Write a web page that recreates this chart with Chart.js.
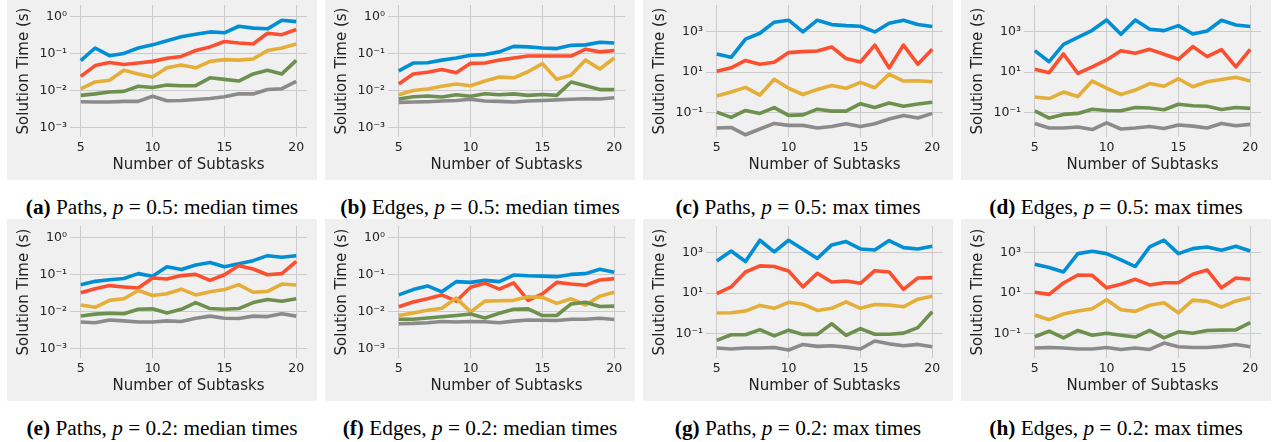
<!DOCTYPE html>
<html><head><meta charset="utf-8">
<script src="https://cdn.jsdelivr.net/npm/chart.js@4"></script>
<style>
html,body{margin:0;padding:0;background:#fff;width:1273px;height:442px;overflow:hidden;position:relative;}
.panel{position:absolute;width:310px;height:182px;background:#f0f0f0;}
.panel canvas{display:block;}
.cap{position:absolute;width:318px;text-align:center;font-family:"Liberation Serif","Times New Roman",serif;font-size:21.3px;color:#000;white-space:nowrap;line-height:20px;height:20px;}
</style></head><body>
<script>
const subtasks = [5,6,7,8,9,10,11,12,13,14,15,16,17,18,19,20];
const xTicks = [5,10,15,20];
const yTicksMedian = [1e-3,1e-2,1e-1,1e0];
const yTicksMax = [1e-1,1e1,1e3];

const a_blue = [0.064,0.14,0.087,0.10,0.14,0.17,0.22,0.28,0.33,0.38,0.36,0.54,0.48,0.46,0.78,0.72];
const a_red = [0.024,0.047,0.057,0.050,0.055,0.061,0.074,0.083,0.12,0.15,0.21,0.19,0.18,0.35,0.32,0.44];
const a_yellow = [0.011,0.017,0.019,0.035,0.028,0.023,0.041,0.049,0.041,0.061,0.068,0.066,0.071,0.12,0.14,0.18];
const a_green = [0.0074,0.0081,0.0091,0.0095,0.013,0.012,0.014,0.0135,0.0135,0.022,0.020,0.018,0.028,0.035,0.028,0.065];
const a_gray = [0.0050,0.0049,0.0049,0.0051,0.0051,0.0070,0.0053,0.0054,0.0057,0.0061,0.0068,0.0082,0.0081,0.0106,0.0112,0.0177];

const b_blue = [0.034,0.055,0.056,0.066,0.075,0.089,0.093,0.11,0.155,0.15,0.14,0.135,0.165,0.17,0.20,0.19];
const b_red = [0.015,0.028,0.031,0.037,0.030,0.054,0.055,0.066,0.075,0.085,0.085,0.085,0.085,0.13,0.11,0.12];
const b_yellow = [0.0077,0.010,0.011,0.013,0.015,0.0135,0.018,0.023,0.022,0.032,0.053,0.020,0.026,0.066,0.038,0.075];
const b_green = [0.0059,0.0068,0.0071,0.0067,0.0077,0.0070,0.0082,0.0077,0.0081,0.0074,0.0078,0.0074,0.017,0.0135,0.0106,0.0106];
const b_gray = [0.0048,0.0049,0.0050,0.0052,0.0054,0.0058,0.0052,0.0051,0.0049,0.0052,0.0054,0.0056,0.0058,0.0060,0.0059,0.0064];

const c_blue = [77,53,410,800,2800,3500,930,3500,2130,1900,1760,930,2470,3500,2130,1700];
const c_red = [11,16,37,24,30,90,100,107,170,46,31,210,16,210,24,130];
const c_yellow = [0.66,1.04,1.77,0.74,4.4,1.6,0.79,1.4,2.2,1.58,3.1,1.7,7.9,3.6,3.7,3.3];
const c_green = [0.107,0.059,0.13,0.093,0.18,0.074,0.079,0.15,0.12,0.12,0.28,0.18,0.30,0.21,0.27,0.33];
const c_gray = [0.018,0.019,0.0083,0.016,0.030,0.024,0.024,0.018,0.021,0.029,0.021,0.029,0.049,0.074,0.055,0.093];

const d_blue = [112,32,230,500,1120,3600,710,3600,1250,1080,1900,740,1040,3470,2050,1700];
const d_red = [13.5,9.3,77,8.6,18,39,112,83,130,74,42,177,57,125,18,130];
const d_yellow = [0.59,0.50,1.04,0.63,3.6,1.6,0.79,1.3,2.7,2.0,4.7,1.9,3.3,4.3,5.5,3.6];
const d_green = [0.125,0.055,0.083,0.093,0.15,0.13,0.125,0.18,0.17,0.14,0.26,0.22,0.21,0.145,0.18,0.165];
const d_gray = [0.030,0.018,0.018,0.020,0.015,0.032,0.016,0.018,0.021,0.017,0.025,0.022,0.018,0.030,0.023,0.027];

const e_blue = [0.053,0.065,0.072,0.078,0.105,0.089,0.16,0.135,0.18,0.21,0.16,0.195,0.235,0.32,0.29,0.32];
const e_red = [0.032,0.041,0.050,0.046,0.043,0.080,0.075,0.093,0.10,0.069,0.098,0.172,0.14,0.098,0.105,0.226];
const e_yellow = [0.015,0.013,0.020,0.022,0.037,0.027,0.030,0.040,0.028,0.034,0.039,0.053,0.033,0.035,0.055,0.052];
const e_green = [0.0076,0.0085,0.009,0.0087,0.0115,0.0118,0.0091,0.0115,0.0174,0.012,0.0115,0.012,0.0174,0.021,0.019,0.022];
const e_gray = [0.0052,0.0050,0.0059,0.0056,0.0052,0.0052,0.0056,0.0054,0.0066,0.0075,0.0066,0.0065,0.0075,0.0073,0.0087,0.0075];

const f_blue = [0.028,0.039,0.049,0.034,0.064,0.061,0.069,0.064,0.096,0.092,0.09,0.087,0.10,0.105,0.137,0.114];
const f_red = [0.0135,0.018,0.022,0.028,0.019,0.045,0.058,0.040,0.059,0.020,0.030,0.061,0.055,0.051,0.071,0.077];
const f_yellow = [0.0078,0.0091,0.0108,0.0123,0.023,0.0098,0.019,0.0195,0.020,0.025,0.024,0.0166,0.022,0.015,0.026,0.033];
const f_green = [0.0062,0.0062,0.0067,0.0072,0.0078,0.0086,0.0067,0.009,0.0115,0.0118,0.0078,0.0078,0.016,0.0178,0.0137,0.014];
const f_gray = [0.0047,0.0048,0.005,0.0054,0.0052,0.0054,0.0053,0.0050,0.0055,0.0059,0.0058,0.0057,0.0062,0.0062,0.0066,0.0061];

const g_blue = [375,1160,350,3900,1040,3900,1400,500,2300,3340,1460,1300,3750,1700,1460,1970];
const g_red = [9.3,20,108,214,200,121,20,93,35,39,30,125,108,15,55,57];
const g_yellow = [1.04,1.07,1.3,2.46,1.77,3.5,2.8,1.4,1.77,3.7,1.77,2.7,2.6,2.1,5.0,6.9];
const g_green = [0.047,0.089,0.089,0.16,0.079,0.15,0.093,0.093,0.31,0.083,0.18,0.095,0.095,0.107,0.20,1.2];
const g_gray = [0.020,0.0178,0.020,0.020,0.021,0.016,0.030,0.024,0.026,0.022,0.0178,0.044,0.032,0.026,0.030,0.023];

const h_blue = [257,177,108,860,1120,860,420,200,1830,3900,860,1510,1830,1250,1970,1160];
const h_red = [11,8.6,31,77,74,18,27,47,25,32,32,83,135,18,55,47];
const h_yellow = [0.83,0.49,0.93,1.3,1.7,4.7,1.5,1.26,2.5,3.3,1.07,4.5,3.9,2.05,4.1,5.9];
const h_green = [0.071,0.135,0.063,0.145,0.085,0.107,0.085,0.069,0.145,0.063,0.125,0.105,0.145,0.15,0.155,0.35];
const h_gray = [0.020,0.021,0.020,0.0178,0.0178,0.021,0.017,0.020,0.017,0.035,0.023,0.021,0.021,0.024,0.030,0.023];

const captionLabels = ['(a)','(b)','(c)','(d)','(e)','(f)','(g)','(h)'];
const captionGraph = ['Paths','Edges','Paths','Edges','Paths','Edges','Paths','Edges'];
const captionP = ['0.5','0.5','0.5','0.5','0.2','0.2','0.2','0.2'];
const captionKind = ['median','median','max','max','median','median','max','max'];

const colors = ['#008fd5','#fc4f30','#e5ae38','#6d904f','#8b8b8b'];
const panels = [
  [a_blue,a_red,a_yellow,a_green,a_gray],
  [b_blue,b_red,b_yellow,b_green,b_gray],
  [c_blue,c_red,c_yellow,c_green,c_gray],
  [d_blue,d_red,d_yellow,d_green,d_gray],
  [e_blue,e_red,e_yellow,e_green,e_gray],
  [f_blue,f_red,f_yellow,f_green,f_gray],
  [g_blue,g_red,g_yellow,g_green,g_gray],
  [h_blue,h_red,h_yellow,h_green,h_gray]
];

const colLeft = [7,325,643,961];
const rowTop = [-2,219];
const capCenterY = [207,428];

const supMap = {'-':'\u207B','0':'\u2070','1':'\u00B9','2':'\u00B2','3':'\u00B3','4':'\u2074','5':'\u2075','6':'\u2076','7':'\u2077','8':'\u2078','9':'\u2079'};
function supLabel(v){
  const e = Math.round(Math.log10(v));
  return '10' + String(e).split('').map(c => supMap[c]).join('');
}

const tickColor = '#222';

panels.forEach((series, idx) => {
  const col = idx % 4, row = Math.floor(idx / 4);
  const isMax = captionKind[idx] === 'max';
  const div = document.createElement('div');
  div.className = 'panel';
  div.style.left = colLeft[col] + 'px';
  div.style.top = rowTop[row] + 'px';
  const cv = document.createElement('canvas');
  cv.width = 310; cv.height = 182;
  cv.style.width = '310px'; cv.style.height = '182px';
  div.appendChild(cv);
  document.body.appendChild(div);

  const yTicks = isMax ? yTicksMax : yTicksMedian;
  new Chart(cv, {
    type: 'line',
    data: {
      datasets: series.map((s, i) => ({
        data: subtasks.map((x, j) => ({x: x, y: s[j]})),
        borderColor: colors[i],
        backgroundColor: colors[i],
        borderWidth: 3.6,
        pointRadius: 0,
        tension: 0,
        fill: false,
        order: 4 - i,
        borderJoinStyle: 'round',
        borderCapStyle: 'butt'
      }))
    },
    options: {
      responsive: false,
      animation: false,
      devicePixelRatio: 1,
      layout: {padding: {left: 0, right: 10, top: 7, bottom: 0}},
      plugins: {legend: {display: false}, tooltip: {enabled: false}},
      scales: {
        x: {
          type: 'linear', min: 4.25, max: 20.75,
          afterBuildTicks: s => { s.ticks = xTicks.map(v => ({value: v})); },
          afterFit: s => { s.height = 43; s.paddingLeft = 0; s.paddingRight = 0; },
          grid: {color: '#cbcbcb', lineWidth: 1, drawTicks: false},
          border: {display: false},
          ticks: {padding: 3, color: tickColor, font: {family: 'DejaVu Sans', size: 12.5}, maxRotation: 0, autoSkip: false},
          title: {display: true, text: 'Number of Subtasks', color: tickColor, font: {family: 'DejaVu Sans', size: 15}, padding: {top: 0, bottom: 6}}
        },
        y: {
          type: 'logarithmic',
          min: isMax ? Math.pow(10, -2.19) : Math.pow(10, -3.253),
          max: isMax ? Math.pow(10, 4.29) : Math.pow(10, 0.305),
          afterBuildTicks: s => { s.ticks = yTicks.map(v => ({value: v})); },
          afterFit: s => { s.width = 63; s.paddingTop = 0; s.paddingBottom = 0; },
          grid: {color: '#cbcbcb', lineWidth: 1, drawTicks: false},
          border: {display: false},
          ticks: {padding: 3, color: tickColor, font: {family: 'DejaVu Sans', size: 12.5}, autoSkip: false, callback: v => supLabel(v)},
          title: {display: true, text: 'Solution Time (s)', color: tickColor, font: {family: 'DejaVu Sans', size: 15}, padding: {top: 8, bottom: 0}}
        }
      }
    }
  });

  const cap = document.createElement('div');
  cap.className = 'cap';
  cap.style.left = (colLeft[col] + 155 - 159) + 'px';
  cap.style.top = (capCenterY[row] - 10) + 'px';
  const b = document.createElement('b'); b.textContent = captionLabels[idx];
  cap.appendChild(b);
  cap.appendChild(document.createTextNode(' ' + captionGraph[idx] + ', '));
  const it = document.createElement('i'); it.textContent = 'p';
  cap.appendChild(it);
  cap.appendChild(document.createTextNode(' = ' + captionP[idx] + ': ' + captionKind[idx] + ' times'));
  document.body.appendChild(cap);
});
</script>
</body></html>
